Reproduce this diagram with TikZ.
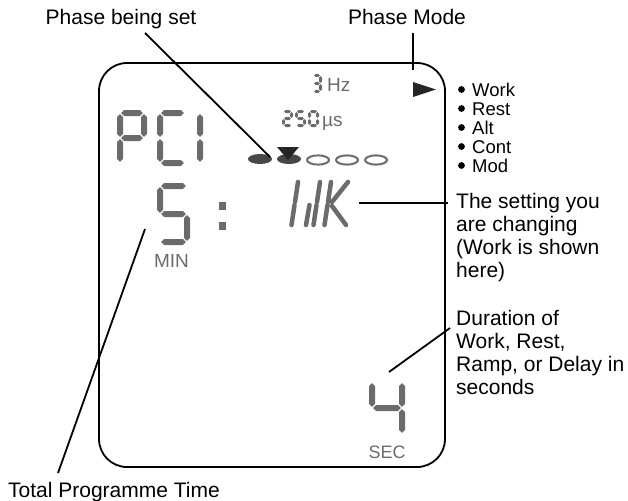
\documentclass[tikz,border=0pt]{standalone}
\usepackage{fontspec}
\setmainfont{Liberation Sans}
\usetikzlibrary{positioning,calc}

\definecolor{lcdgray}{gray}{0.42}
\definecolor{lcddark}{gray}{0.28}

% one LCD segment: length, thickness
\tikzset{
  pics/seg/.style 2 args={code={
    \pgfmathsetmacro\g{0.2*(#2)}
    \fill[lcdgray] ({-(#1)/2+\g},0) -- ({-(#1)/2+\g+(#2)/2},{(#2)/2})
      -- ({(#1)/2-\g-(#2)/2},{(#2)/2}) -- ({(#1)/2-\g},0)
      -- ({(#1)/2-\g-(#2)/2},{-(#2)/2}) -- ({-(#1)/2+\g+(#2)/2},{-(#2)/2}) -- cycle;
  }}
}

% LCD digit: x, y (top left), width, height, thickness, segments (0=a ... 6=g)
\newcommand{\lcddigit}[6]{%
  \begin{scope}[shift={(#1,#2)}]
    \foreach \s in {#6} {
      \ifcase\s\relax
        \pic at ({(#3)/2},0) {seg={#3}{#5}};
      \or \pic[rotate=90] at (#3,{(#4)/4}) {seg={(#4)/2}{#5}};
      \or \pic[rotate=90] at (#3,{3*(#4)/4}) {seg={(#4)/2}{#5}};
      \or \pic at ({(#3)/2},#4) {seg={#3}{#5}};
      \or \pic[rotate=90] at (0,{3*(#4)/4}) {seg={(#4)/2}{#5}};
      \or \pic[rotate=90] at (0,{(#4)/4}) {seg={(#4)/2}{#5}};
      \or \pic at ({(#3)/2},{(#4)/2}) {seg={#3}{#5}};
      \fi
    }
  \end{scope}}

\begin{document}
\begin{tikzpicture}[
  x=1pt, y=-1pt,
  every node/.style={inner sep=0pt, font=\fontsize{21}{23}\selectfont},
  leader/.style={draw, line width=1.8pt},
  lcdtext/.style={text=lcdgray, font=\fontsize{19}{19}\selectfont},
  lcdstroke/.style={draw=lcdgray, line width=4.5pt, line cap=round}
]
\useasboundingbox (0,0) rectangle (628,500);

% display frame
\node[draw, line width=1.8pt, rounded corners=28pt,
  minimum width=346pt, minimum height=404pt] (lcd) at (272,265) {};

% labels (multi-line nodes sit on their last line)
\node[anchor=base] (being) at (121,25) {Phase being set};
\node[anchor=base] (mode) at (407,25) {Phase Mode};
\node[anchor=base west, align=left, font=\fontsize{18.5}{19}\selectfont] (modes) at (472,172)
  {Work\\Rest\\Alt\\Cont\\Mod};
\foreach \i in {0,...,4}
  \fill (461.5,{89.5+19*\i}) circle [radius=3.4pt];
\node[anchor=base west, align=left] (setting) at (456,277)
  {The setting you\\are changing\\(Work is shown\\here)};
\node[anchor=base west, align=left] (duration) at (456,394)
  {Duration of\\Work, Rest,\\Ramp, or Delay in\\seconds};
\node[anchor=base] (total) at (114,497) {Total Programme Time};

% display contents
\lcddigit{313.5}{75.5}{7}{16}{3}{0,1,6,2,3}
\node[lcdtext, anchor=base west] (hz) at (327,92) {Hz};
\lcddigit{283.5}{111.5}{8}{14}{3}{0,1,6,4,3}
\lcddigit{296.5}{111.5}{8}{14}{3}{0,5,6,2,3}
\lcddigit{309.5}{111.5}{8}{14}{3}{0,1,2,3,4,5}
\node[lcdtext, anchor=base west] (us) at (322,126) {µs};

\lcddigit{120}{113}{24}{50}{6}{0,1,5,6,4}
\lcddigit{160}{113}{25}{50}{6}{0,5,4,3}
\lcddigit{176}{113}{24}{50}{6}{1,2}

\lcddigit{160}{186}{27}{56}{6}{0,5,6,2,3}
\node[lcdtext, anchor=base] (min) at (171.5,267) {MIN};
\fill[lcdgray] (219,202) rectangle (226,210);
\fill[lcdgray] (219,222) rectangle (226,230);

\draw[lcdstroke] (298,182) -- (295,202) (294.5,205) -- (291.5,225)
  (320,182) -- (317,202) (316.5,205) -- (313.5,225) (309.5,205) -- (306,225);
\draw[lcdstroke] (331,182) -- (328,202) (327.5,205) -- (324.5,225)
  (332,202) -- (348,182) (332,206) -- (346,225);

\lcddigit{372}{382}{30}{52}{6}{5,6,1,2}
\node[lcdtext, anchor=base, font=\fontsize{18}{18}\selectfont] (sec) at (387,458) {SEC};

\fill[lcddark] (260,159) ellipse [x radius=12pt, y radius=5pt];
\fill[lcddark] (289,159) ellipse [x radius=12pt, y radius=5pt];
\foreach \x in {318,347,376}
  \draw[lcdgray, line width=2pt] (\x,160) ellipse [x radius=11pt, y radius=4.6pt];
\fill[black!85] (277,147) -- (299,147) -- (288,160) -- cycle;
\fill[black!85] (413,82) -- (436,89.5) -- (413,97) -- cycle;

% leaders
\coordinate (being-foot) at (145,33);
\coordinate (dot-tip) at (270,157);
\coordinate (mode-foot) at (413,33);
\coordinate (mode-tip) at (413,70);
\coordinate (wk-tip) at (359,203);
\coordinate (setting-tip) at (448,203);
\coordinate (four-tip) at (389,372);
\coordinate (duration-tip) at (450,328);
\coordinate (min-tip) at (145,229);
\coordinate (total-tip) at (58,473);
\draw[leader] (being-foot) -- (dot-tip);
\draw[leader] (mode-foot) -- (mode-tip);
\draw[leader] (wk-tip) -- (setting-tip);
\draw[leader] (four-tip) -- (duration-tip);
\draw[leader] (min-tip) -- (total-tip);
\end{tikzpicture}
\end{document}
